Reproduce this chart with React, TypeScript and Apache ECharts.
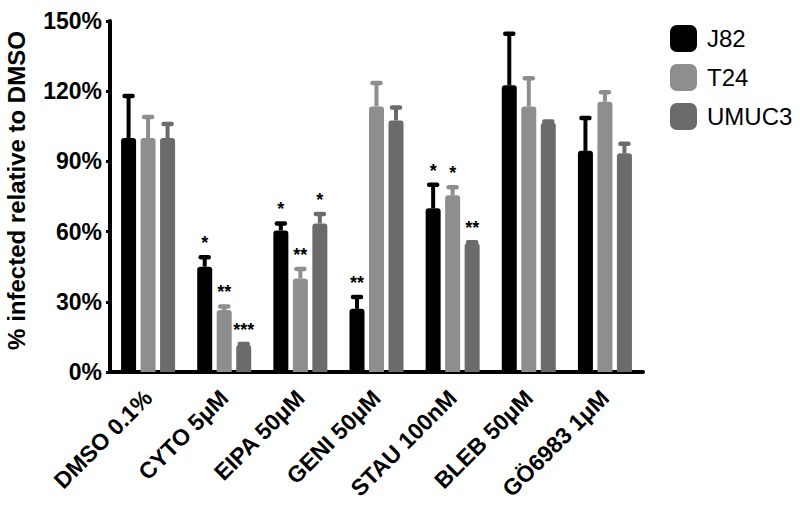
import React, { useEffect, useRef } from "react";
import * as echarts from "echarts";

const categories = ["DMSO 0.1%", "CYTO 5μM", "EIPA 50μM", "GENI 50μM", "STAU 100nM", "BLEB 50μM", "GÖ6983 1μM"];
const seriesNames = ["J82", "T24", "UMUC3"];

const j82Mean = [100, 45, 60.5, 27, 70, 122.5, 94.5];
const t24Mean = [100, 26.5, 40, 113.5, 75.5, 113.5, 115.5];
const umuc3Mean = [100, 11.5, 63.5, 107.5, 55, 106.5, 93.5];

const j82Err = [18, 4, 3, 5, 10, 22, 14];
const t24Err = [9, 1.5, 4, 10, 3.5, 12, 4];
const umuc3Err = [6, 0.5, 4, 5.5, 0.5, 0.5, 4];

const j82Sig = ["", "*", "*", "**", "*", "", ""];
const t24Sig = ["", "**", "**", "", "*", "", ""];
const umuc3Sig = ["", "***", "*", "", "**", "", ""];

const yTicks = [0, 30, 60, 90, 120, 150];
const yTitle = "% infected relative to DMSO";

const colors = ["#000000", "#8e8e8e", "#6b6b6b"];
const FONT = '"Liberation Sans", Arial, sans-serif';

export default function App() {
  const ref = useRef<HTMLDivElement>(null);
  useEffect(() => {
    const chart = echarts.init(ref.current!, null, { renderer: "svg" });
    const means = [j82Mean, t24Mean, umuc3Mean];
    const errs = [j82Err, t24Err, umuc3Err];
    const sigs = [j82Sig, t24Sig, umuc3Sig];
    const barWidth = 15;
    const gapPx = 4.5;

    const bars = seriesNames.map((name, si) => ({
      type: "bar",
      name,
      data: means[si],
      barWidth,
      barGap: "30%",
      itemStyle: { color: colors[si], borderRadius: [3, 3, 0, 0] },
      z: 2,
    }));

    const errSeries = seriesNames.map((name, si) => ({
      type: "custom",
      name: name + " SEM",
      data: means[si].map((m, i) => [i, m + errs[si][i], m]),
      encode: { x: 0, y: [1, 2] },
      z: 3,
      renderItem: (params: any, api: any) => {
        const i = api.value(0);
        const top = api.coord([i, api.value(1)]);
        const base = api.coord([i, api.value(2)]);
        const cx = top[0] + (si - 1) * (barWidth + gapPx);
        const children: any[] = [
          {
            type: "line",
            shape: { x1: cx, y1: base[1], x2: cx, y2: top[1] },
            style: { stroke: colors[si], lineWidth: 4 },
          },
          {
            type: "line",
            shape: { x1: cx - 4, y1: top[1], x2: cx + 4, y2: top[1] },
            style: { stroke: colors[si], lineWidth: 4.5, lineCap: "round" },
          },
        ];
        const s = sigs[si][params.dataIndex];
        if (s) {
          children.push({
            type: "text",
            x: cx,
            y: top[1] - 14,
            style: {
              text: s,
              fill: "#000",
              fontSize: 18,
              fontWeight: "bold",
              fontFamily: FONT,
              align: "center",
              verticalAlign: "middle",
            },
          });
        }
        return { type: "group", children };
      },
    }));

    chart.setOption({
      animation: false,
      backgroundColor: "#ffffff",
      grid: { left: 110, right: 157, top: 21, bottom: 133, containLabel: false, outerBoundsMode: "none" },
      legend: {
        data: seriesNames,
        orient: "vertical",
        left: 670,
        top: 25,
        padding: 0,
        itemWidth: 27,
        itemHeight: 27,
        itemGap: 12,
        icon: "roundRect",
        textStyle: { fontSize: 24, color: "#000", fontFamily: FONT, padding: [0, 0, 0, 5] },
      },
      xAxis: {
        type: "category",
        data: categories,
        axisLine: { lineStyle: { color: "#000", width: 4 } },
        axisTick: { alignWithLabel: true, length: 5, lineStyle: { color: "#000", width: 3 } },
        axisLabel: {
          rotate: 45,
          interval: 0,
          margin: 22,
          fontSize: 23,
          fontWeight: "bold",
          color: "#000",
          fontFamily: FONT,
        },
      },
      yAxis: {
        type: "value",
        min: yTicks[0],
        max: yTicks[yTicks.length - 1],
        interval: yTicks[1] - yTicks[0],
        name: yTitle,
        nameLocation: "middle",
        nameGap: 82,
        nameTextStyle: { fontSize: 24, fontWeight: "bold", color: "#000", fontFamily: FONT, padding: [0, 0, 0, 12] },
        axisLine: { show: true, lineStyle: { color: "#000", width: 4 } },
        axisTick: { show: true, length: 4, lineStyle: { color: "#000", width: 3 } },
        axisLabel: {
          formatter: "{value}%",
          margin: 8,
          fontSize: 23,
          fontWeight: "bold",
          color: "#000",
          fontFamily: FONT,
        },
        splitLine: { show: false },
      },
      series: [...bars, ...errSeries],
    });
    return () => chart.dispose();
  }, []);
  return <div ref={ref} style={{ position: "fixed", left: 0, top: 0, width: 800, height: 505 }} />;
}
